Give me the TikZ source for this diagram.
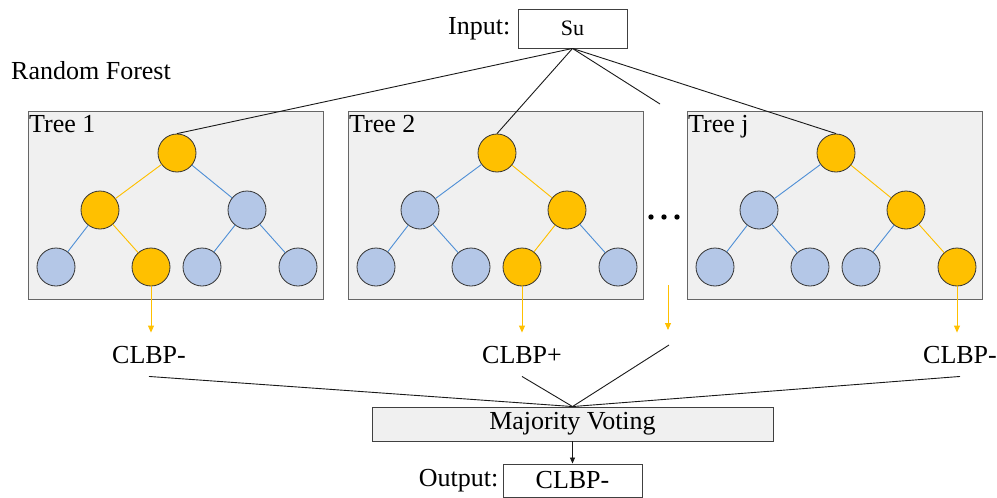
\documentclass[tikz,border=0pt]{standalone}
\usepackage{fontspec}
\setmainfont{Liberation Serif}
\usepackage{xcolor}
\usetikzlibrary{arrows.meta,positioning}

\definecolor{hotfill}{HTML}{FFC000}
\definecolor{coldfill}{HTML}{B4C7E7}
\definecolor{coldline}{HTML}{4F8FD6}
\definecolor{boxgray}{HTML}{F0F0F0}

\begin{document}
\begin{tikzpicture}[
  x=1pt, y=-1pt,
  font=\fontsize{26}{31}\selectfont,
  forestbox/.style={draw=black!60, fill=boxgray, line width=1.1pt, minimum width=295pt, minimum height=188pt, anchor=north west},
  leaf/.style={circle, draw=black!80, line width=0.8pt, minimum size=38pt, inner sep=0},
  hot/.style={fill=hotfill, draw=hotfill, line width=0.9pt},
  cold/.style={fill=coldfill, draw=coldline, line width=0.9pt},
  plainbox/.style={draw=black!75, line width=0.9pt, align=center},
  verdict/.style={anchor=base, inner xsep=2pt, inner ysep=13pt},
  wire/.style={black!90, line width=0.9pt},
  hotarr/.style={hotfill, line width=0.9pt, -{Triangle[length=7pt,width=6pt]}},
  arr/.style={black!90, line width=0.8pt, -{Triangle[length=6pt,width=5pt]}}
]
\useasboundingbox (0,0) rectangle (997,498);

\node[plainbox, minimum width=109pt, minimum height=39pt] (su) at (572.5,28.5) {\fontsize{22}{26}\selectfont Su};
\node[left=7pt of su, inner sep=0] (inlab) {Input:};
\node[anchor=base west, inner sep=0] (forest) at (11,79) {Random Forest};

\foreach \t/\x/\sa/\sb/\si/\sii/\siii/\siv in {1/28/hot/cold/cold/hot/cold/cold, 2/348/cold/hot/cold/cold/hot/cold, j/687/cold/hot/cold/cold/cold/hot}{
  \node[forestbox] (tree\t) at (\x,111) {};
  \node[anchor=base west, inner sep=0] (name\t) at (\x+1,132) {Tree \t};
  \node[hot, leaf] (t\t-r) at (\x+149,153) {};
  \node[\sa, leaf] (t\t-a) at (\x+72,210) {};
  \node[\sb, leaf] (t\t-b) at (\x+219,210) {};
  \node[\si, leaf] (t\t-1) at (\x+28,267) {};
  \node[\sii, leaf] (t\t-2) at (\x+123,267) {};
  \node[\siii, leaf] (t\t-3) at (\x+174,267) {};
  \node[\siv, leaf] (t\t-4) at (\x+270,267) {};
  \draw[\sa] (t\t-r) -- (t\t-a);
  \draw[\sb] (t\t-r) -- (t\t-b);
  \draw[\si] (t\t-a) -- (t\t-1);
  \draw[\sii] (t\t-a) -- (t\t-2);
  \draw[\siii] (t\t-b) -- (t\t-3);
  \draw[\siv] (t\t-b) -- (t\t-4);
}

\foreach \d in {0,1,2}
  \fill (651+13*\d,217) circle (2.7pt);

\coordinate (gaptop) at (660,104);
\coordinate (gapin) at (668,285);
\coordinate (gapout) at (668,330);
\coordinate (gaplink) at (669,345);

\draw[wire] (su.south) -- (t1-r.north);
\draw[wire] (su.south) -- (t2-r.north);
\draw[wire] (su.south) -- (gaptop);
\draw[wire] (su.south) -- (tj-r.north);

\node[verdict] (v1) at (149,363) {CLBP-};
\node[verdict] (v2) at (522,363) {CLBP+};
\node[verdict] (vj) at (960,363) {CLBP-};

\draw[hotarr] (t1-2) -- (t1-2 |- v1.north);
\draw[hotarr] (t2-3) -- (v2);
\draw[hotarr] (gapin) -- (gapout);
\draw[hotarr] (tj-4) -- (tj-4 |- vj.north);

\node[plainbox, fill=boxgray, minimum width=401pt, minimum height=34pt] (vote) at (572.5,424) {Majority Voting};
\node[plainbox, minimum width=139pt, minimum height=33pt] (out) at (572.5,480.5) {CLBP-};
\node[left=4pt of out, inner sep=0] (outlab) {Output:};

\draw[wire] (v1.south) -- (vote.north);
\draw[wire] (v2.south) -- (vote.north);
\draw[wire] (gaplink) -- (vote.north);
\draw[wire] (vj.south) -- (vote.north);
\draw[arr] (vote) -- (out);
\end{tikzpicture}
\end{document}
